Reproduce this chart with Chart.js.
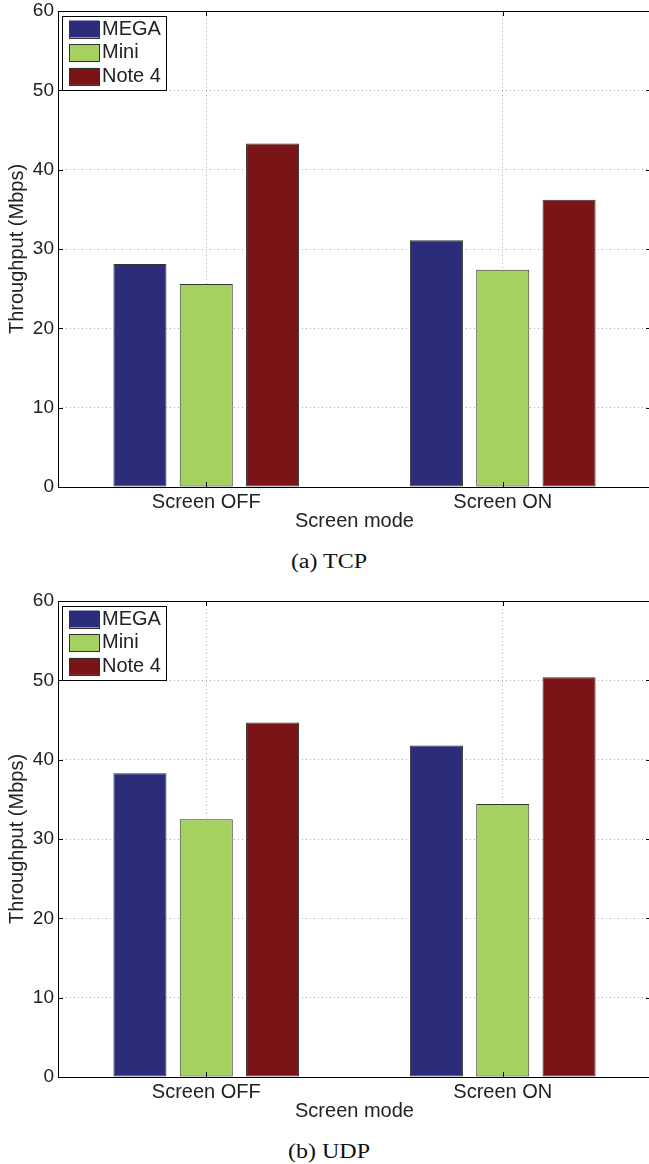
<!DOCTYPE html>
<html>
<head>
<meta charset="utf-8">
<script src="https://cdn.jsdelivr.net/npm/chart.js@4/dist/chart.umd.min.js"></script>
<style>
    body { margin: 0; background: #fff; }
    #page { position: relative; width: 649px; height: 1164px; overflow: hidden; }
    .panel { position: absolute; left: 0; width: 649px; height: 533px; overflow: hidden; }
    .caption {
        position: absolute; left: 129px; width: 400px; text-align: center;
        font-family: "Liberation Serif", "Times New Roman", serif; font-size: 20px; line-height: 20px;
        color: #111; transform: scaleX(1.2);
    }
</style>
</head>
<body>
<div id="page">
    <div class="panel" style="top:0"><canvas id="tcpChart" width="656" height="533"></canvas></div>
    <div class="caption" style="top:551px">(a) TCP</div>
    <div class="panel" style="top:590px"><canvas id="udpChart" width="656" height="533"></canvas></div>
    <div class="caption" style="top:1141px">(b) UDP</div>
</div>
<script>
// categories and device names
const modes = ['Screen OFF', 'Screen ON'];
const devices = ['MEGA', 'Mini', 'Note 4'];
const yTicks = [0, 10, 20, 30, 40, 50, 60];

// TCP throughput (Mbps)
const tcpMega = [28.1, 31.1];
const tcpMini = [25.6, 27.4];
const tcpNote = [43.3, 36.2];

// UDP throughput (Mbps)
const udpMega = [38.3, 41.8];
const udpMini = [32.5, 34.4];
const udpNote = [44.7, 50.4];

const deviceColors = ['#2b2d7b', '#a5d160', '#7b1416'];
const FONT = '"Liberation Sans", Arial, Helvetica, sans-serif';
const TEXT = '#222';

// black box round the plot, with small inward ticks like matlab
const framePlugin = {
    id: 'frame',
    afterDatasetsDraw(chart) {
        const ctx = chart.ctx;
        const a = chart.chartArea;
        const x = chart.scales.x;
        const y = chart.scales.y;
        ctx.save();
        ctx.strokeStyle = '#000';
        ctx.lineWidth = 1;
        ctx.strokeRect(a.left + 0.5, a.top + 0.5, a.right - a.left, a.bottom - a.top);
        ctx.beginPath();
        y.ticks.forEach((t, i) => {
            const py = Math.round(y.getPixelForTick(i)) + 0.5;
            ctx.moveTo(a.left, py); ctx.lineTo(a.left + 5, py);
            ctx.moveTo(a.right, py); ctx.lineTo(a.right - 5, py);
        });
        x.ticks.forEach((t, i) => {
            const px = Math.round(x.getPixelForTick(i)) + 0.5;
            ctx.moveTo(px, a.bottom); ctx.lineTo(px, a.bottom - 5);
            ctx.moveTo(px, a.top); ctx.lineTo(px, a.top + 5);
        });
        ctx.stroke();
        ctx.restore();
    }
};

// legend box drawn inside the top-left corner of the plot
const insideLegend = {
    id: 'insideLegend',
    afterDraw(chart) {
        const ctx = chart.ctx;
        const a = chart.chartArea;
        const bx = a.left + 4, by = a.top + 5;
        ctx.save();
        ctx.fillStyle = '#fff';
        ctx.fillRect(bx, by, 104, 74);
        ctx.strokeStyle = '#000';
        ctx.lineWidth = 1;
        ctx.strokeRect(bx + 0.5, by + 0.5, 104, 74);
        ctx.font = '20px ' + FONT;
        ctx.textBaseline = 'middle';
        chart.data.datasets.forEach((ds, i) => {
            const cy = by + 13 + i * 23.7;
            ctx.fillStyle = ds.backgroundColor;
            ctx.fillRect(bx + 7, cy - 8.5, 30, 17);
            ctx.strokeStyle = '#333';
            ctx.strokeRect(bx + 7.5, Math.round(cy - 8.5) + 0.5, 30, 17);
            ctx.fillStyle = TEXT;
            ctx.fillText(ds.label, bx + 40, cy);
        });
        ctx.restore();
    }
};

function buildChart(canvasId, mega, mini, note) {
    const ctx = document.getElementById(canvasId).getContext('2d');
    const series = [mega, mini, note];
    return new Chart(ctx, {
        type: 'bar',
        data: {
            labels: modes,
            datasets: devices.map((name, i) => ({
                label: name,
                data: series[i],
                backgroundColor: deviceColors[i],
                borderColor: '#333',
                borderWidth: 1,
                borderSkipped: false,
                categoryPercentage: 0.671,
                barPercentage: 0.8
            }))
        },
        options: {
            responsive: false,
            animation: false,
            devicePixelRatio: 1,
            layout: { padding: { top: 11, left: 1, right: 5, bottom: 0 } },
            plugins: {
                legend: { display: false },
                tooltip: { enabled: false }
            },
            scales: {
                x: {
                    offset: true,
                    grid: { offset: false, color: '#b0b0b0', drawTicks: false },
                    border: { display: false, dash: [1, 3] },
                    ticks: { padding: 3, color: TEXT, font: { family: FONT, size: 20 } },
                    title: {
                        display: true, text: 'Screen mode', color: TEXT,
                        padding: { top: 0, bottom: 0 },
                        font: { family: FONT, size: 20 }
                    },
                    afterFit: (scale) => { scale.height = 46; }
                },
                y: {
                    min: 0,
                    max: 60,
                    afterBuildTicks: (scale) => { scale.ticks = yTicks.map(v => ({ value: v })); },
                    grid: { color: '#b0b0b0', drawTicks: false },
                    border: { display: false, dash: [1, 3] },
                    ticks: { padding: 4, color: TEXT, font: { family: FONT, size: 19 } },
                    title: {
                        display: true, text: 'Throughput (Mbps)', color: TEXT,
                        font: { family: FONT, size: 20 }
                    },
                    afterFit: (scale) => {
                        scale.width = 57;
                        scale.paddingTop = 0;
                        scale.paddingBottom = 0;
                    }
                }
            }
        },
        plugins: [framePlugin, insideLegend]
    });
}

document.addEventListener('DOMContentLoaded', function() {
    buildChart('tcpChart', tcpMega, tcpMini, tcpNote);
    buildChart('udpChart', udpMega, udpMini, udpNote);
});
</script>
</body>
</html>
